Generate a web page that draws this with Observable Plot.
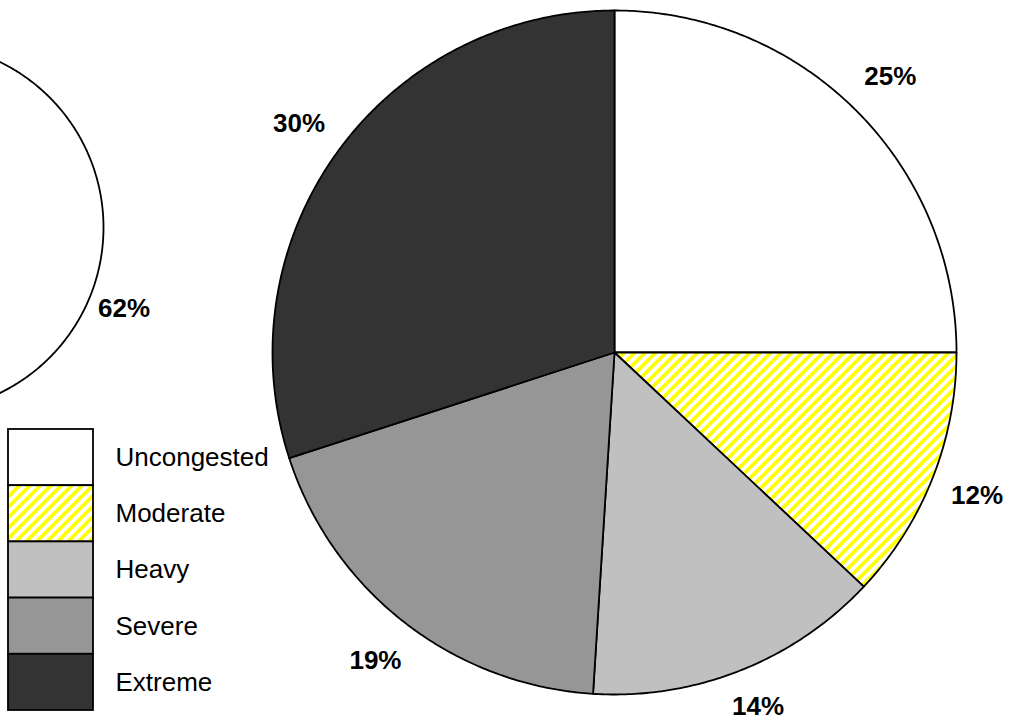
<!DOCTYPE html>
<html>
<head>
<meta charset="utf-8">
<script src="https://cdn.jsdelivr.net/npm/d3@7"></script>
<script src="https://cdn.jsdelivr.net/npm/@observablehq/plot@0.6"></script>
<style>
  html, body { margin: 0; padding: 0; background: #ffffff; overflow: hidden; }
  #chart svg { display: block; }
</style>
</head>
<body>
<div id="chart"></div>
<script>
// Congestion categories, in slice order (clockwise from 12 o'clock)
const categories = ["Uncongested", "Moderate", "Heavy", "Severe", "Extreme"];
const categoryFills = ["#ffffff", "url(#moderate-stripes)", "#c0c0c0", "#969696", "#333333"];

// Main pie: share of each category (percent)
const mainShares = [25, 12, 14, 19, 30];

// Companion pie (only its uncongested share lies inside the frame)
const sideCategories = ["Uncongested"];
const sideShares = [62];

// Layout
const W = 1019, H = 722;
const mainPie = {cx: 614, cy: 352, r: 342, labelR: 390};
const sidePie = {cx: -81, cy: 227, r: 184, labelR: 220};
const legendBox = {x1: 8, x2: 93, top: 429, rowH: 56.2, textX: 115};
const labelSize = 26;

// Build slice outlines (centre -> arc -> centre) and label anchors
function buildPie(id, pie, cats, shares) {
  const outline = [];
  const labels = [];
  let start = 0;
  cats.forEach((cat, i) => {
    const a0 = start * 2 * Math.PI / 100;
    const a1 = (start + shares[i]) * 2 * Math.PI / 100;
    const key = id + "-" + i;
    outline.push({slice: key, category: cat, x: pie.cx, y: pie.cy});
    const steps = Math.max(2, Math.ceil((a1 - a0) / (Math.PI / 360)));
    for (let k = 0; k <= steps; ++k) {
      const a = a0 + (a1 - a0) * k / steps;
      outline.push({slice: key, category: cat, x: pie.cx + pie.r * Math.sin(a), y: pie.cy - pie.r * Math.cos(a)});
    }
    outline.push({slice: key, category: cat, x: pie.cx, y: pie.cy});
    const am = (a0 + a1) / 2;
    // keep labels inside the frame
    const ly = Math.min(pie.cy - pie.labelR * Math.cos(am), H - labelSize * 0.62);
    labels.push({text: shares[i] + "%", x: pie.cx + pie.labelR * Math.sin(am), y: ly});
    start += shares[i];
  });
  return {outline, labels};
}

const main = buildPie("main", mainPie, categories, mainShares);
const side = buildPie("side", sidePie, sideCategories, sideShares);

const legendRows = categories.map((category, i) => ({category, i}));

const plot = Plot.plot({
  width: W,
  height: H,
  margin: 0,
  x: {domain: [0, W], range: [0, W], axis: null},
  y: {domain: [0, H], range: [0, H], axis: null},
  color: {type: "ordinal", domain: categories, range: categoryFills},
  style: {fontFamily: "'Liberation Sans', Arial, sans-serif", background: "#ffffff", color: "#000000"},
  marks: [
    // companion pie
    Plot.line(side.outline, {x: "x", y: "y", z: "slice", fill: "category", stroke: "#000000", strokeWidth: 1.8, strokeLinejoin: "round", clip: true}),
    Plot.text(side.labels, {x: "x", y: "y", text: "text", fontSize: labelSize, fontWeight: "bold", fill: "#000000"}),
    // main pie
    Plot.line(main.outline, {x: "x", y: "y", z: "slice", fill: "category", stroke: "#000000", strokeWidth: 1.8, strokeLinejoin: "round", clip: true}),
    Plot.text(main.labels, {x: "x", y: "y", text: "text", fontSize: labelSize, fontWeight: "bold", fill: "#000000"}),
    // legend
    Plot.rect(legendRows, {
      x1: () => legendBox.x1,
      x2: () => legendBox.x2,
      y1: d => legendBox.top + d.i * legendBox.rowH,
      y2: d => legendBox.top + (d.i + 1) * legendBox.rowH,
      fill: "category",
      stroke: "#000000",
      strokeWidth: 1.8
    }),
    Plot.text(legendRows, {
      x: () => legendBox.textX,
      y: d => legendBox.top + (d.i + 0.5) * legendBox.rowH,
      text: "category",
      textAnchor: "start",
      fontSize: 26,
      fill: "#000000"
    })
  ]
});

// Diagonal yellow hatching used for the "Moderate" category
const ns = "http://www.w3.org/2000/svg";
const defs = document.createElementNS(ns, "defs");
const pattern = document.createElementNS(ns, "pattern");
pattern.setAttribute("id", "moderate-stripes");
pattern.setAttribute("patternUnits", "userSpaceOnUse");
pattern.setAttribute("width", "7.4");
pattern.setAttribute("height", "7.4");
pattern.setAttribute("patternTransform", "rotate(45)");
const bg = document.createElementNS(ns, "rect");
bg.setAttribute("width", "7.4");
bg.setAttribute("height", "7.4");
bg.setAttribute("fill", "#ffffff");
const stripe = document.createElementNS(ns, "rect");
stripe.setAttribute("width", "3.7");
stripe.setAttribute("height", "7.4");
stripe.setAttribute("fill", "#ffff00");
pattern.appendChild(bg);
pattern.appendChild(stripe);
defs.appendChild(pattern);
plot.insertBefore(defs, plot.firstChild);

document.getElementById("chart").appendChild(plot);
</script>
</body>
</html>
